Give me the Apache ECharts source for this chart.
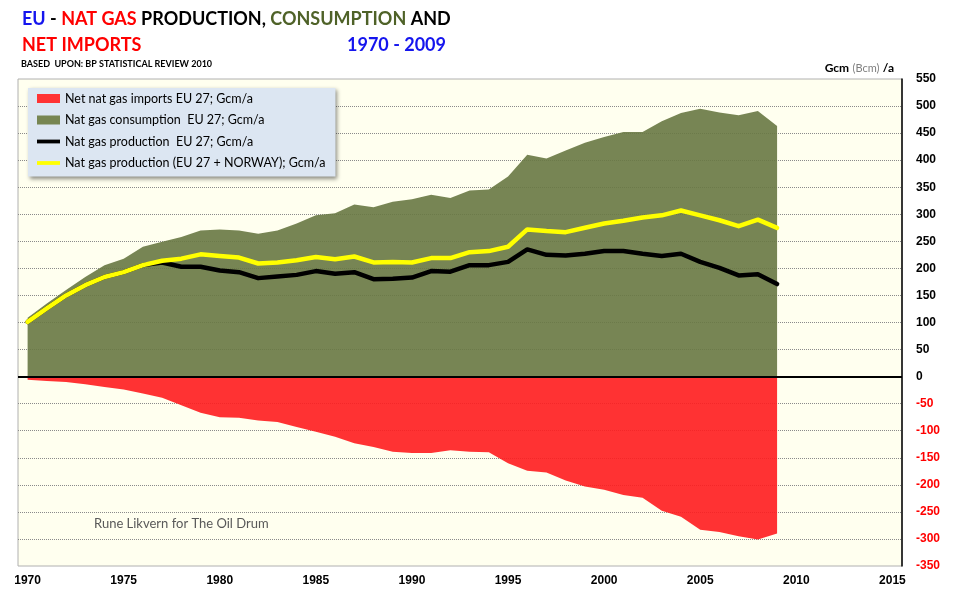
<!DOCTYPE html>
<html>
<head>
<meta charset="utf-8">
<script src="https://cdn.jsdelivr.net/npm/echarts@6/dist/echarts.min.js"></script>
<style>
html,body{margin:0;padding:0;background:#ffffff;}
#c{width:960px;height:600px;}
</style>
</head>
<body>
<div id="c"></div>
<script>
const years = [1970,1971,1972,1973,1974,1975,1976,1977,1978,1979,
               1980,1981,1982,1983,1984,1985,1986,1987,1988,1989,
               1990,1991,1992,1993,1994,1995,1996,1997,1998,1999,
               2000,2001,2002,2003,2004,2005,2006,2007,2008,2009];
const consumption = [109,135,160,184,206,218,240,249,258,270,
                     272,270,264,270,283,298,302,318,313,323,
                     328,336,330,344,346,370,410,403,418,432,
                     443,452,452,472,487,495,488,483,491,463];
const productionEU = [101,126,150,169,184,193,206,211,203,203,
                      196,193,182,185,188,195,190,193,180,181,
                      183,195,194,206,206,212,235,225,224,227,
                      232,232,227,223,227,212,201,187,189,171];
const productionEUNorway = [101,126,150,169,184,193,206,214,218,226,
                            223,220,209,211,215,221,217,222,211,212,
                            211,219,219,230,232,240,272,269,267,275,
                            283,288,294,298,307,298,289,278,290,275];
const netImports = [-6,-8,-10,-14,-19,-24,-31,-39,-53,-67,
                    -75,-76,-81,-84,-93,-102,-111,-123,-130,-139,
                    -141,-141,-136,-139,-140,-160,-174,-177,-192,-203,
                    -209,-219,-224,-248,-259,-283,-287,-295,-301,-290];
const xTickLabels = [1970,1975,1980,1985,1990,1995,2000,2005,2010,2015];
const seriesNames = ['Net nat gas imports EU 27; Gcm/a',
                     'Nat gas consumption  EU 27; Gcm/a',
                     'Nat gas production  EU 27; Gcm/a',
                     'Nat gas production (EU 27 + NORWAY); Gcm/a'];

function pairs(vals){ return years.map((y,i)=>[y, vals[i]]); }

const chart = echarts.init(document.getElementById('c'), null, {renderer:'canvas'});
const lineIcon = 'path://M0,0L0,0M0,9L0,9M0,2.6H23V6.4H0Z';
const F = 'Lato, "Open Sans", sans-serif';

chart.setOption({
  animation:false,
  backgroundColor:'#ffffff',
  textStyle:{fontFamily:F},
  grid:{left:18,right:58,top:79,bottom:34,show:true,backgroundColor:'#ffffef',borderColor:'#b0b0b0',borderWidth:1},
  xAxis:{
    type:'value',min:1969.5,max:2015.5,
    axisLine:{show:false},axisTick:{show:false},splitLine:{show:false},
    axisLabel:{customValues:xTickLabels,color:'#000',fontWeight:'bold',fontSize:12,
      fontFamily:'"Liberation Sans", Arial, sans-serif',margin:9,formatter:v=>String(v)}
  },
  yAxis:{
    type:'value',position:'right',min:-350,max:550,interval:50,
    axisLine:{show:true,lineStyle:{color:'#000',width:1.5}},
    axisTick:{show:false},
    axisLabel:{margin:14,fontWeight:'bold',fontSize:12,fontFamily:'"Liberation Sans", Arial, sans-serif',
      color:function(v){return Number(v)<0?'#ff0000':'#000000';}},
    splitLine:{show:true,showMinLine:false,showMaxLine:false,lineStyle:{color:'#8a8a8a',type:'dotted',width:1}}
  },
  legend:{
    orient:'vertical',left:28,top:88,
    backgroundColor:'#dce6f2',borderWidth:0,
    shadowColor:'rgba(0,0,0,0.45)',shadowBlur:4,shadowOffsetX:2,shadowOffsetY:2,
    padding:[4,10,7,9],itemGap:8.5,itemWidth:23,itemHeight:9,
    itemStyle:{borderWidth:0},
    textStyle:{fontSize:12.5,color:'#000',fontFamily:F},
    selectedMode:false,
    data:[
      {name:seriesNames[0],icon:'rect'},
      {name:seriesNames[1],icon:'rect'},
      {name:seriesNames[2],icon:lineIcon},
      {name:seriesNames[3],icon:lineIcon}
    ]
  },
  graphic:[
    {type:'text',left:22,top:10,silent:true,style:{
      text:'{b|EU} {k|-} {r|NAT GAS} {k|PRODUCTION,} {g|CONSUMPTION} {k|AND}',
      font:'bold 18px '+F,
      rich:{
        b:{fill:'#1515ee',font:'bold 18px '+F},
        r:{fill:'#ff0000',font:'bold 18px '+F},
        k:{fill:'#000000',font:'bold 18px '+F},
        g:{fill:'#4f6228',font:'bold 18px '+F}
      }}},
    {type:'text',left:22,top:36,silent:true,style:{text:'NET IMPORTS',fill:'#ff0000',font:'bold 18px '+F}},
    {type:'text',left:347,top:36,silent:true,style:{text:'1970 - 2009',fill:'#1515ee',font:'bold 18px '+F}},
    {type:'text',left:21,top:60,silent:true,style:{text:'BASED  UPON: BP STATISTICAL REVIEW 2010',fill:'#000',font:'bold 9px '+F}},
    {type:'text',right:66,top:62,silent:true,style:{
      text:'{a|Gcm} {c|(Bcm)} {a|/a}',
      rich:{a:{fill:'#000',font:'bold 12px '+F},c:{fill:'#7f7f7f',font:'11px '+F}}}},
    {type:'text',left:94,top:517,silent:true,style:{text:'Rune Likvern for The Oil Drum',fill:'#595959',font:'13px '+F}}
  ],
  series:[
    {name:seriesNames[1],type:'line',data:pairs(consumption),symbol:'none',z:2,
      color:'#778652',
      lineStyle:{width:0},areaStyle:{color:'#687842',opacity:0.9},itemStyle:{color:'#778652'}},
    {name:seriesNames[0],type:'line',data:pairs(netImports),symbol:'none',z:2,
      color:'#ff3333',
      lineStyle:{width:0},areaStyle:{color:'#ff1c1e',opacity:0.9},itemStyle:{color:'#ff3333'}},
    {name:seriesNames[2],type:'line',data:pairs(productionEU),symbol:'none',z:3,
      color:'#000000',lineStyle:{color:'#000000',width:4.5,cap:'round',join:'round'},itemStyle:{color:'#000000'}},
    {name:seriesNames[3],type:'line',data:pairs(productionEUNorway),symbol:'none',z:4,
      color:'#ffff00',lineStyle:{color:'#ffff00',width:4.5,cap:'round',join:'round'},itemStyle:{color:'#ffff00'},
      markLine:{silent:true,symbol:'none',label:{show:false},lineStyle:{color:'#000',width:2,type:'solid'},data:[{yAxis:0}]}}
  ]
});
</script>
</body>
</html>
